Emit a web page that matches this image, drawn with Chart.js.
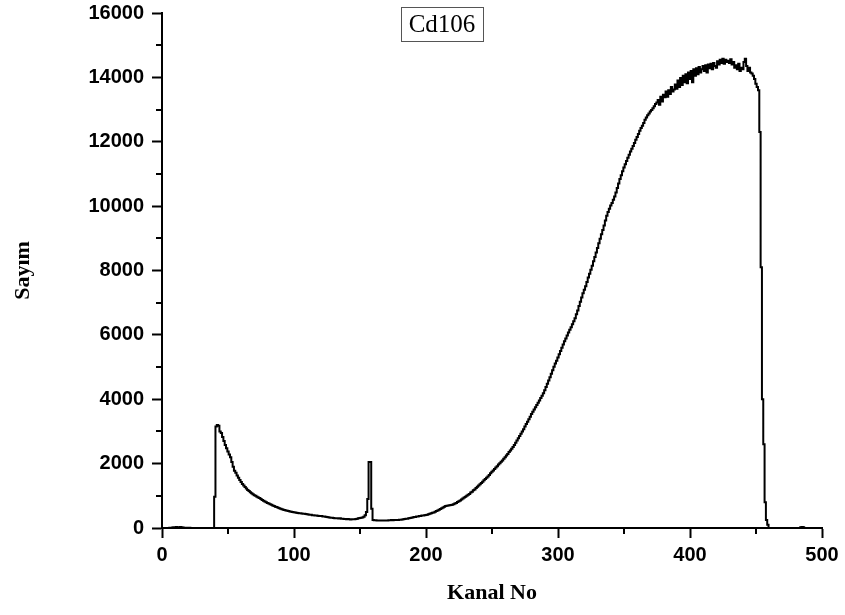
<!DOCTYPE html>
<html>
<head>
<meta charset="utf-8">
<title>Cd106</title>
<script src="https://cdn.jsdelivr.net/npm/chart.js@4"></script>
<style>
  html, body { margin: 0; padding: 0; background: #fff; }
  #wrap { width: 845px; height: 615px; position: relative; }
</style>
</head>
<body>
<div id="wrap"><canvas id="spectrum"></canvas></div>
<script>
// Cd106 spectrum, counts per channel (channel 0..499)
const firstChannel = 0;
const counts = [
    0, 0, 0, 0, 0, 0, 5, 10, 15, 20,                                        // 0
    25, 30, 20, 25, 30, 20, 15, 10, 10, 5,                                  // 10
    5, 5, 0, 0, 0, 0, 0, 0, 0, 0,                                           // 20
    0, 0, 0, 0, 0, 0, 0, 0, 0, 0,                                           // 30
    970, 3150, 3200, 3180, 3000, 2950, 2830, 2700, 2580, 2480,              // 40
    2380, 2280, 2200, 2050, 1900, 1780, 1720, 1630, 1560, 1490,             // 50
    1430, 1370, 1320, 1270, 1230, 1180, 1150, 1110, 1080, 1050,             // 60
    1020, 1000, 970, 950, 930, 900, 870, 850, 820, 800,                     // 70
    780, 760, 740, 720, 700, 680, 660, 650, 630, 610,                       // 80
    600, 585, 570, 560, 545, 535, 525, 515, 505, 500,                       // 90
    490, 480, 470, 465, 460, 455, 450, 445, 440, 434,                       // 100
    425, 420, 415, 410, 400, 395, 390, 385, 380, 375,                       // 110
    372, 370, 360, 355, 350, 340, 335, 330, 320, 315,                       // 120
    310, 305, 300, 300, 295, 300, 290, 285, 280, 280,                       // 130
    275, 280, 270, 265, 270, 270, 275, 280, 290, 300,                       // 140
    310, 320, 330, 350, 400, 500, 900, 2050, 2050, 600,                     // 150
    250, 240, 240, 235, 230, 235, 230, 235, 230, 230,                       // 160
    230, 235, 240, 240, 245, 240, 245, 250, 250, 250,                       // 170
    255, 260, 265, 270, 280, 285, 290, 300, 310, 320,                       // 180
    330, 340, 345, 355, 360, 370, 375, 385, 390, 400,                       // 190
    405, 415, 425, 440, 455, 470, 485, 505, 525, 545,                       // 200
    565, 590, 615, 640, 660, 680, 695, 700, 705, 712,                       // 210
    722, 738, 758, 780, 805, 830, 858, 885, 915, 945,                       // 220
    970, 1000, 1030, 1060, 1100, 1130, 1170, 1200, 1240, 1280,              // 230
    1320, 1360, 1400, 1440, 1480, 1520, 1560, 1600, 1650, 1700,             // 240
    1750, 1790, 1830, 1880, 1920, 1970, 2010, 2060, 2100, 2150,             // 250
    2200, 2250, 2300, 2360, 2410, 2460, 2520, 2580, 2650, 2720,             // 260
    2790, 2860, 2930, 3000, 3070, 3150, 3230, 3300, 3380, 3460,             // 270
    3540, 3610, 3680, 3750, 3820, 3890, 3960, 4040, 4110, 4190,             // 280
    4280, 4380, 4480, 4580, 4680, 4790, 4900, 5010, 5110, 5200,             // 290
    5300, 5400, 5500, 5600, 5700, 5800, 5890, 5980, 6070, 6160,             // 300
    6240, 6330, 6420, 6520, 6640, 6760, 6900, 7030, 7160, 7290,             // 310
    7400, 7510, 7640, 7780, 7900, 8020, 8150, 8290, 8420, 8560,             // 320
    8700, 8850, 8990, 9130, 9260, 9400, 9550, 9700, 9820, 9920,             // 330
    10020, 10100, 10200, 10300, 10420, 10560, 10700, 10840, 10960, 11080,   // 340
    11200, 11300, 11400, 11500, 11600, 11700, 11780, 11870, 11960, 12060,   // 350
    12150, 12240, 12340, 12430, 12500, 12580, 12680, 12750, 12820, 12880,   // 360
    12940, 12990, 13040, 13100, 13170, 13220, 13300, 13150, 13400, 13250,   // 370
    13460, 13380, 13560, 13400, 13600, 13480, 13700, 13560, 13620, 13780,   // 380
    13650, 13900, 13700, 13980, 13760, 14050, 13850, 14100, 13820, 14150,   // 390
    13950, 14200, 13850, 14250, 14050, 14280, 14100, 14320, 14150, 14250,   // 400
    14350, 14200, 14380, 14150, 14400, 14280, 14420, 14250, 14450, 14350,   // 410
    14300, 14500, 14400, 14550, 14450, 14580, 14420, 14550, 14480, 14520,   // 420
    14450, 14560, 14400, 14480, 14300, 14380, 14250, 14420, 14200, 14300,   // 430
    14250, 14480, 14580, 14350, 14200, 14300, 14150, 14120, 14050, 13950,   // 440
    13800, 13700, 13600, 12300, 8100, 4000, 2600, 800, 250, 100,            // 450
    0, 0, 0, 0, 0, 0, 0, 0, 0, 0,                                           // 460
    0, 0, 0, 0, 0, 0, 0, 0, 0, 0,                                           // 470
    0, 0, 0, 0, 20, 30, 20, 0, 0, 0,                                        // 480
    0, 0, 0, 0, 0, 0, 0, 0, 0, 0                                            // 490
];

const xTicks = [0, 100, 200, 300, 400, 500];
const xMinor = [50, 150, 250, 350, 450];
const yTicks = [0, 2000, 4000, 6000, 8000, 10000, 12000, 14000, 16000];
const yMinor = [1000, 3000, 5000, 7000, 9000, 11000, 13000, 15000];

const titleText = 'Cd106';
const xTitle = 'Kanal No';
const yTitle = 'Sayım';

// minor tick marks + the boxed label at the top
const extrasPlugin = {
    id: 'extras',
    afterDraw(chart) {
        const ctx = chart.ctx;
        const xs = chart.scales.x, ys = chart.scales.y;
        const area = chart.chartArea;
        ctx.save();
        ctx.strokeStyle = '#000';
        ctx.lineWidth = 2;
        ctx.beginPath();
        xMinor.forEach(v => {
            const px = Math.round(xs.getPixelForValue(v));
            ctx.moveTo(px, area.bottom);
            ctx.lineTo(px, area.bottom + 6);
        });
        yMinor.forEach(v => {
            const py = Math.round(ys.getPixelForValue(v));
            ctx.moveTo(area.left - 6, py);
            ctx.lineTo(area.left, py);
        });
        ctx.stroke();

        // title box
        ctx.font = '25px "Liberation Serif"';
        ctx.textAlign = 'center';
        ctx.textBaseline = 'middle';
        const cx = 442, cy = 24;
        ctx.fillStyle = '#000';
        ctx.fillText(titleText, cx, cy + 1);
        ctx.strokeStyle = '#555';
        ctx.lineWidth = 1;
        ctx.strokeRect(401.5, 7.5, 82, 34);
        ctx.restore();
    }
};

const tickFont = { family: 'Liberation Sans', size: 20, weight: 'bold' };
const titleFont = { family: 'Liberation Serif', size: 22, weight: 'bold' };

new Chart(document.getElementById('spectrum'), {
    type: 'line',
    data: {
        datasets: [{
            data: counts.map((c, i) => ({ x: firstChannel + i, y: c })),
            borderColor: '#000',
            borderWidth: 2,
            pointRadius: 0,
            stepped: 'middle',
            fill: false
        }]
    },
    options: {
        responsive: true,
        maintainAspectRatio: false,
        devicePixelRatio: 1,
        animation: false,
        layout: { padding: { top: 13, right: 23, bottom: 0, left: 0 } },
        plugins: {
            legend: { display: false },
            tooltip: { enabled: false }
        },
        scales: {
            x: {
                type: 'linear',
                min: 0,
                max: 500,
                afterBuildTicks: s => { s.ticks = xTicks.map(v => ({ value: v })); },
                afterFit: s => { s.height = 87; s.paddingLeft = 0; s.paddingRight = 0; },
                grid: { drawOnChartArea: false, tickLength: 10, tickColor: '#000', tickWidth: 2 },
                border: { color: '#000', width: 2 },
                ticks: { color: '#000', font: tickFont, padding: 5, maxRotation: 0, callback: v => String(v) },
                title: { display: true, text: xTitle, color: '#000', font: titleFont, padding: { top: 0, bottom: 8 } }
            },
            y: {
                type: 'linear',
                min: 0,
                max: 16000,
                afterBuildTicks: s => { s.ticks = yTicks.map(v => ({ value: v })); },
                afterFit: s => { s.width = 162; s.paddingTop = 0; s.paddingBottom = 0; },
                grid: { drawOnChartArea: false, tickLength: 10, tickColor: '#000', tickWidth: 2 },
                border: { color: '#000', width: 2 },
                ticks: { color: '#000', font: tickFont, padding: 8, callback: v => String(v) },
                title: { display: true, text: yTitle, color: '#000', font: titleFont, padding: { top: 10, bottom: 0 } }
            }
        }
    },
    plugins: [extrasPlugin]
});
</script>
</body>
</html>
